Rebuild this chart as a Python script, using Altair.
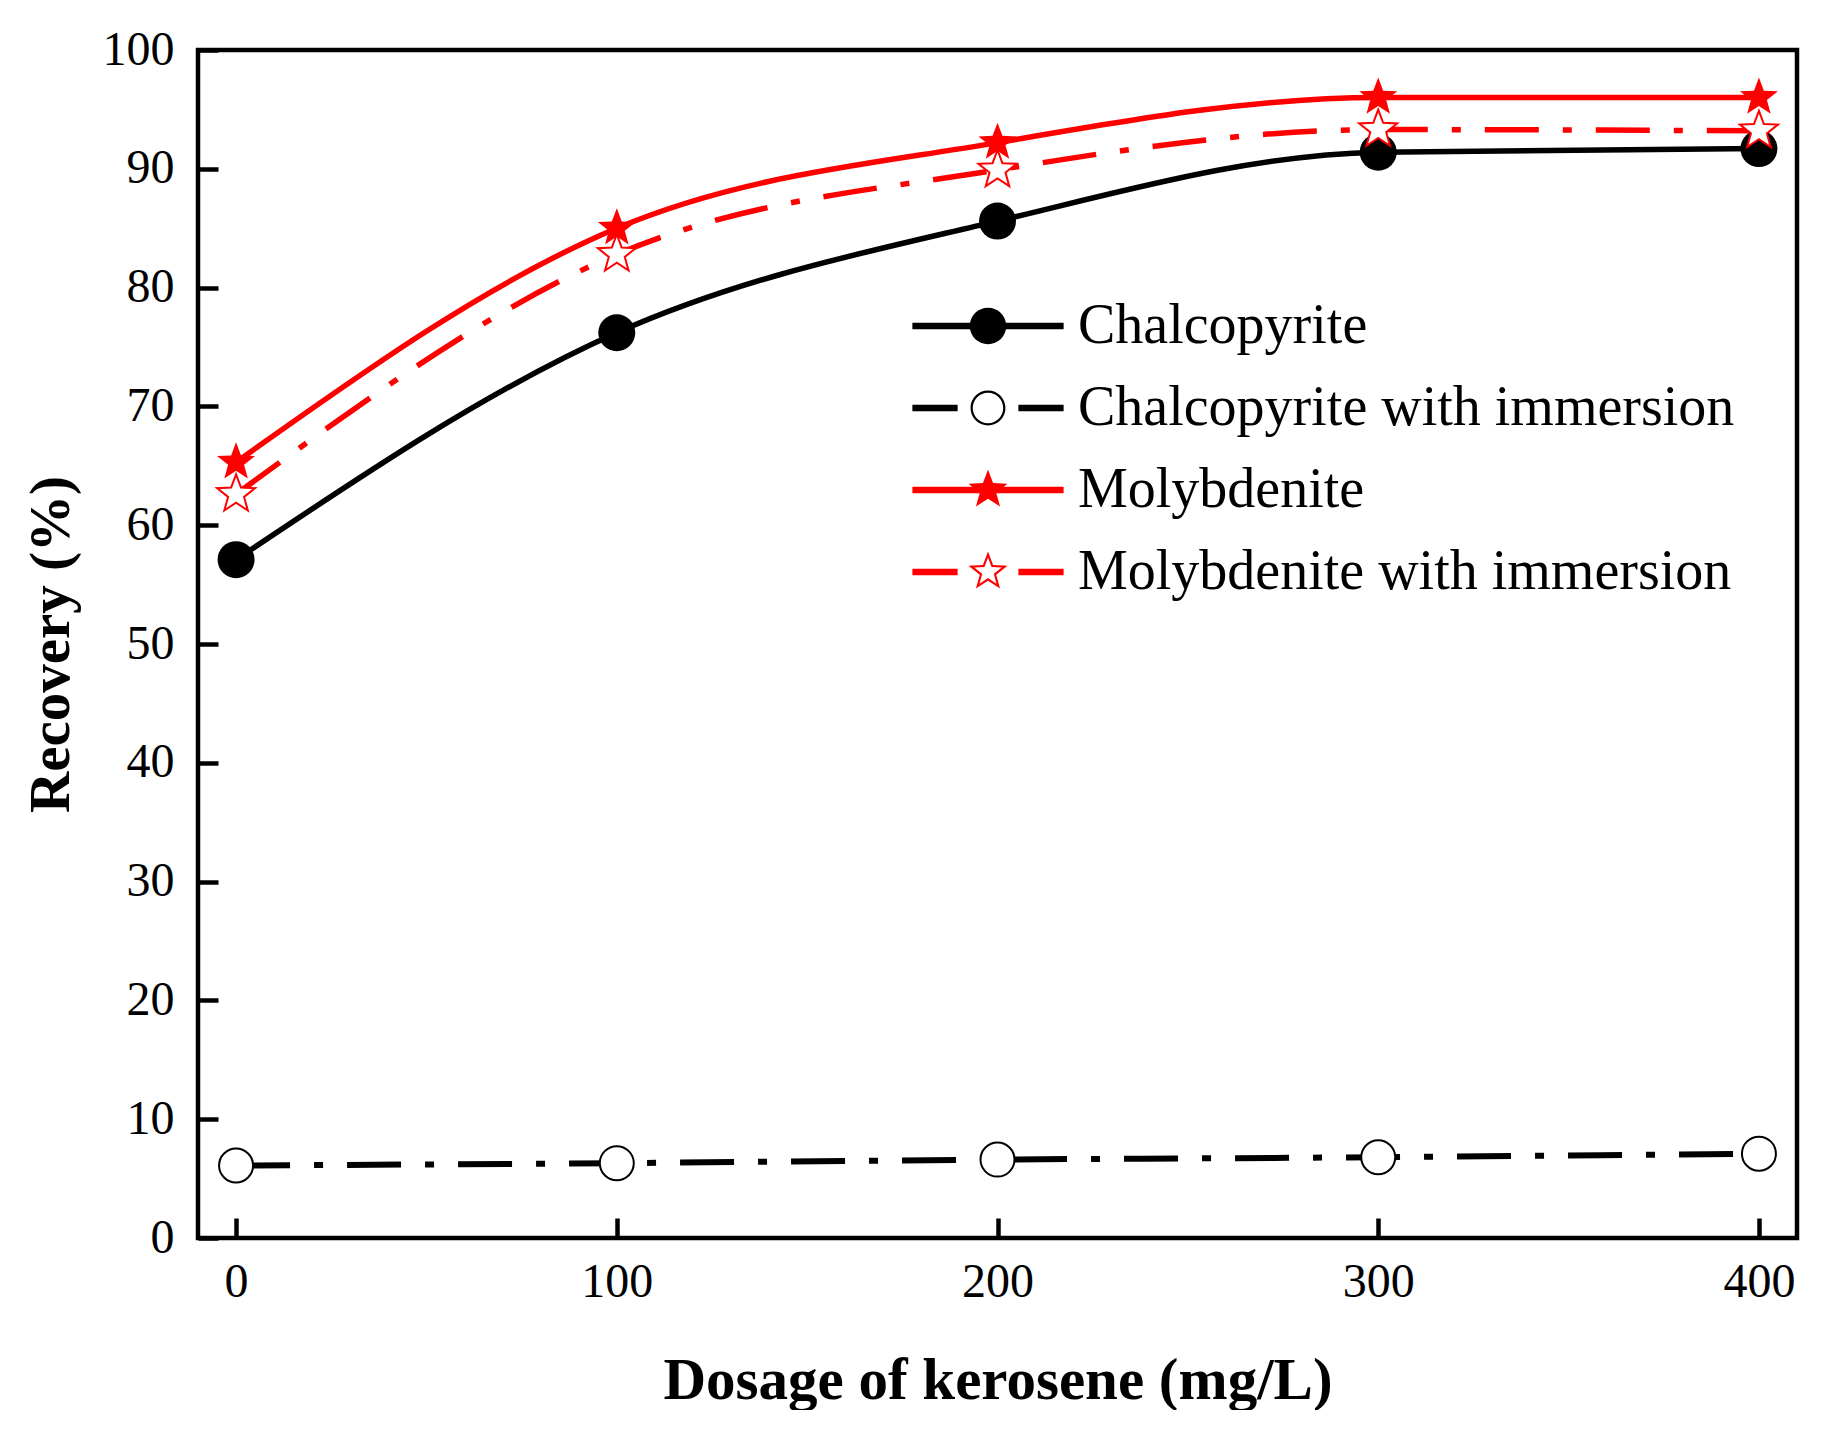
import math
import altair as alt
import pandas as pd

# ---------------- data ----------------
dosage = [0, 100, 200, 300, 400]
chalcopyrite = [57.1, 76.2, 85.6, 91.4, 91.7]
chalcopyrite_imm = [6.1, 6.3, 6.6, 6.8, 7.1]
molybdenite = [65.3, 85.0, 92.2, 96.0, 96.0]
molybdenite_imm = [62.6, 82.8, 89.9, 93.3, 93.2]

series_names = ["Chalcopyrite", "Chalcopyrite with immersion",
                "Molybdenite", "Molybdenite with immersion"]
series_values = [chalcopyrite, chalcopyrite_imm, molybdenite, molybdenite_imm]
series_colors = ["black", "black", "#ff0000", "#ff0000"]

x_ticks = [0, 100, 200, 300, 400]
y_ticks = list(range(0, 101, 10))

rows = []
for name, vals in zip(series_names, series_values):
    for x, v in zip(dosage, vals):
        rows.append({"series": name, "dosage": x, "recovery": v})
df = pd.DataFrame(rows)

# ---------------- symbol shapes ----------------
def rect(x0, x1, h):
    return f"M{x0:.3f},{-h:.3f}L{x1:.3f},{-h:.3f}L{x1:.3f},{h:.3f}L{x0:.3f},{h:.3f}Z"

def circle(r, cw=True):
    s = 1 if cw else 0
    return (f"M{r:.3f},0A{r:.3f},{r:.3f} 0 1,{s} {-r:.3f},0"
            f"A{r:.3f},{r:.3f} 0 1,{s} {r:.3f},0Z")

def star(R, r, reverse=False):
    pts = []
    for i in range(10):
        ang = -math.pi / 2 + i * math.pi / 5
        rad = R if i % 2 == 0 else r
        pts.append((rad * math.cos(ang), rad * math.sin(ang)))
    if reverse:
        pts = pts[::-1]
    return "M" + "L".join(f"{x:.3f},{y:.3f}" for x, y in pts) + "Z"

STAR_RATIO = 0.42
star_marker = star(1.0, STAR_RATIO)

# legend symbols (line + marker), units of 38 px
LH = 0.085
solid_line = rect(-1.99, 1.99, LH)
dash_line = rect(-1.99, -0.8, LH) + rect(0.8, 1.99, LH)
leg_shapes = [
    solid_line + circle(0.48),
    dash_line + circle(0.46) + circle(0.40, cw=False),
    solid_line + star(0.54, 0.54 * STAR_RATIO),
    dash_line + star(0.54, 0.54 * STAR_RATIO) + star(0.38, 0.38 * STAR_RATIO, reverse=True),
]

# ---------------- layout ----------------
W, H = 1599, 1188
FONT = "Liberation Serif"
DASH = [54, 24, 9, 24]

x_scale = alt.Scale(domain=[-10, 410], nice=False, zero=False)
y_scale = alt.Scale(domain=[0, 100], nice=False, zero=False)

x_main = alt.X("dosage:Q", scale=x_scale, axis=alt.Axis(
    orient="bottom", values=x_ticks, ticks=False, tickSize=0, domain=False, grid=False,
    labelFont=FONT, labelFontSize=48, labelColor="black", labelPadding=20,
    title="Dosage of kerosene (mg/L)", titleFont=FONT, titleFontSize=59,
    titleFontWeight="bold", titleColor="black", titlePadding=45))
y_main = alt.Y("recovery:Q", scale=y_scale, axis=alt.Axis(
    orient="left", values=y_ticks, ticks=False, tickSize=0, domain=False, grid=False,
    labelFont=FONT, labelFontSize=48, labelColor="black", labelPadding=24,
    title="Recovery (%)", titleFont=FONT, titleFontSize=57,
    titleFontWeight="bold", titleColor="black", titlePadding=22))

base = alt.Chart(df)

def sub(name):
    return base.transform_filter(alt.datum.series == name)

lines = [
    sub(series_names[0]).mark_line(color="black", strokeWidth=5.5, interpolate="monotone"),
    sub(series_names[1]).mark_line(color="black", strokeWidth=6, interpolate="monotone",
                                   strokeDash=DASH),
    sub(series_names[2]).mark_line(color="#ff0000", strokeWidth=5.5, interpolate="monotone"),
    sub(series_names[3]).mark_line(color="#ff0000", strokeWidth=5.5, interpolate="monotone",
                                   strokeDash=DASH),
]
points = [
    sub(series_names[0]).mark_point(shape="circle", filled=True, fill="black",
                                    strokeWidth=0, size=1369, opacity=1),
    sub(series_names[1]).mark_point(shape="circle", filled=True, fill="white",
                                    stroke="black", strokeWidth=2, size=1156, opacity=1),
    sub(series_names[2]).mark_point(shape=star_marker, filled=True, fill="#ff0000",
                                    strokeWidth=0, size=1600, opacity=1),
    sub(series_names[3]).mark_point(shape=star_marker, filled=True, fill="white",
                                    stroke="#ff0000", strokeWidth=2, size=1600, opacity=1),
]
main = alt.layer(*[l.encode(x=x_main, y=y_main) for l in lines + points])

legend_spec = dict(
    title=None, orient="none", legendX=752, legendY=238, padding=0,
    labelFont=FONT, labelFontSize=56, labelColor="black",
    labelLimit=0, labelOffset=52, rowPadding=16,
    symbolSize=5776, symbolStrokeWidth=0, symbolOpacity=1)

# invisible layer: inward ticks + legend
guide = base.mark_point(filled=True, opacity=0, size=1).encode(
    x=alt.X("dosage:Q", scale=x_scale, axis=alt.Axis(
        orient="top", offset=-H, values=x_ticks, labels=False, domain=False, grid=False,
        ticks=True, tickSize=20, tickWidth=4.5, tickColor="black", title=None)),
    y=alt.Y("recovery:Q", scale=y_scale, axis=alt.Axis(
        orient="right", offset=-W, values=y_ticks, labels=False, domain=False, grid=False,
        ticks=True, tickSize=20, tickWidth=4.5, tickColor="black", title=None)),
    color=alt.Color("series:N", scale=alt.Scale(domain=series_names, range=series_colors),
                    legend=alt.Legend(**legend_spec)),
    shape=alt.Shape("series:N", scale=alt.Scale(domain=series_names, range=leg_shapes),
                    legend=alt.Legend(**legend_spec)),
)

chart = alt.layer(main, guide).resolve_axis(x="independent", y="independent").properties(
    width=W, height=H,
    padding={"left": 14, "top": 18, "right": 10, "bottom": 0},
    background="white",
).configure_view(stroke="black", strokeWidth=4.5)

chart.save("out.html", embed_options={"renderer": "svg", "actions": False})
